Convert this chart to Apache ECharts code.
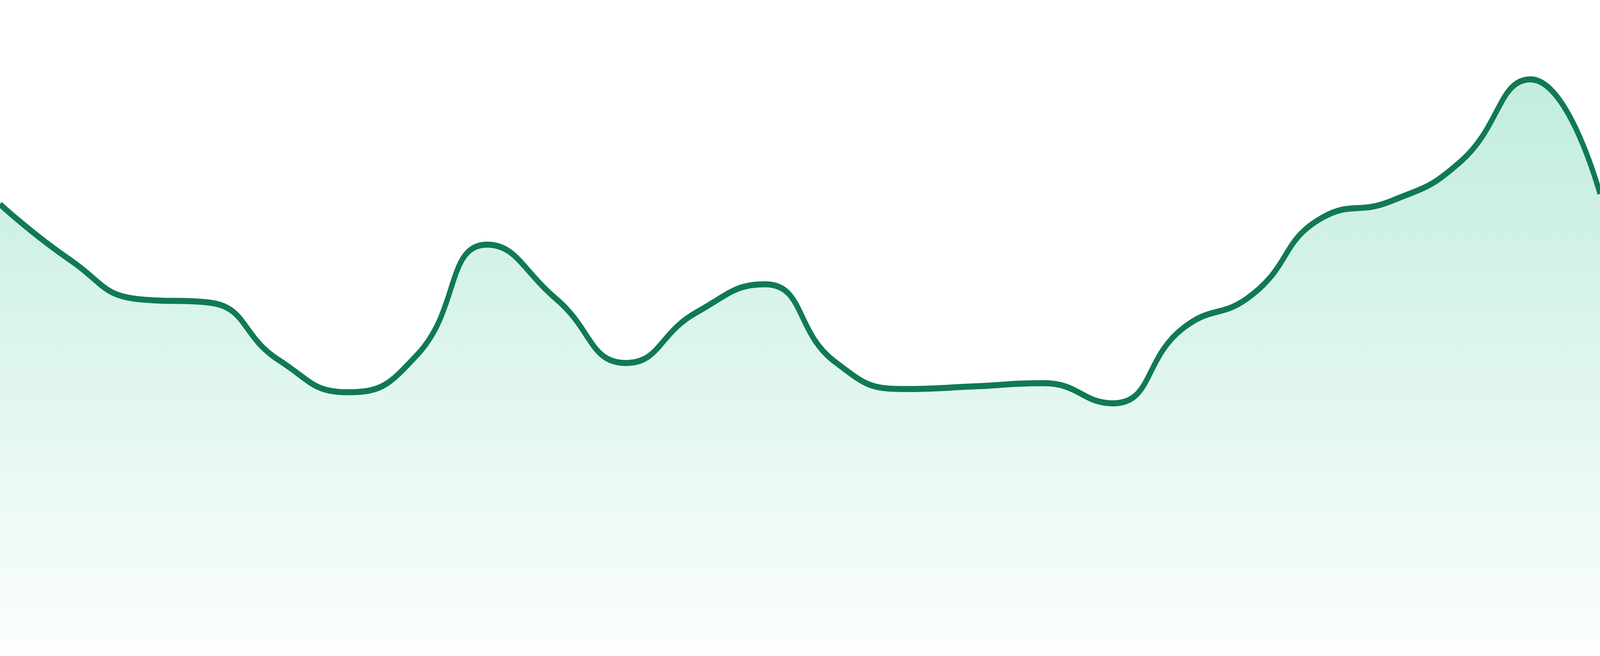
<!DOCTYPE html>
<html>
<head>
<meta charset="utf-8">
<script src="https://cdn.jsdelivr.net/npm/echarts@6/dist/echarts.min.js"></script>
<style>
html,body{margin:0;padding:0;background:#ffffff;width:100%;height:100%;overflow:hidden;}
#chart{width:4800px;height:1680px;transform-origin:0 0;}
</style>
</head>
<body>
<div id="chart"></div>
<script>
const categories = ['00:00','01:00','02:00','03:00','04:00','05:00','06:00','07:00','08:00','09:00','10:00','11:00','12:00','13:00','14:00','15:00','16:00','17:00','18:00','19:00','20:00','21:00','22:00','23:00'];
const values = [68.6, 60.1, 54.0, 53.5, 44.7, 39.7, 45.5, 62.4, 54.0, 44.2, 51.9, 56.3, 44.4, 40.2, 40.6, 41.1, 38.0, 49.5, 54.7, 66.5, 69.1, 75.2, 87.8, 70.2];
const yMin = 0;
const yMax = 100;

const dom = document.getElementById('chart');
// fit the 4800x1680 design into the viewport the browser actually has
const sx = window.innerWidth / 4800;
const sy = window.innerHeight / 1680;
dom.style.transform = 'scale(' + sx + ',' + sy + ')';

const chart = echarts.init(dom, null, {renderer: 'canvas', width: 4800, height: 1680});
chart.setOption({
  animation: false,
  backgroundColor: '#ffffff',
  grid: {left: 0, right: 0, top: 0, bottom: 14, containLabel: false},
  xAxis: {
    type: 'category',
    data: categories,
    boundaryGap: false,
    show: false
  },
  yAxis: {
    type: 'value',
    min: yMin,
    max: yMax,
    show: false
  },
  series: [{
    type: 'line',
    data: values,
    smooth: true,
    symbol: 'none',
    lineStyle: {color: '#107a51', width: 15.5},
    areaStyle: {
      color: new echarts.graphic.LinearGradient(0, 0, 0, 1, [
        {offset: 0, color: 'rgba(16,185,129,0.37)'},
        {offset: 1, color: 'rgba(16,185,129,0.02)'}
      ])
    }
  }]
});
</script>
</body>
</html>
